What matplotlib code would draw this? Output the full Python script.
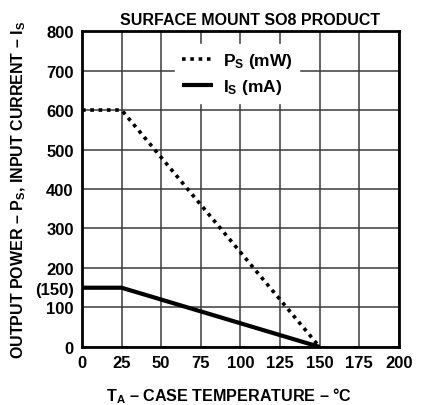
import matplotlib
matplotlib.use('Agg')
import matplotlib.pyplot as plt

plt.rcParams['font.family'] = 'Liberation Sans'
plt.rcParams['font.weight'] = 'bold'
plt.rcParams['axes.labelweight'] = 'bold'
plt.rcParams['axes.titleweight'] = 'bold'
plt.rcParams['mathtext.fontset'] = 'custom'
plt.rcParams['mathtext.rm'] = 'Liberation Sans:bold'
plt.rcParams['mathtext.it'] = 'Liberation Sans:bold'
plt.rcParams['mathtext.bf'] = 'Liberation Sans:bold'

# data
temp = [0, 25, 150]
ps_mw = [600, 600, 0]
is_ma = [150, 150, 0]
x_ticks = [0, 25, 50, 75, 100, 125, 150, 175, 200]
y_ticks = [0, 100, 150, 200, 300, 400, 500, 600, 700, 800]
y_labels = ['0', '100', '(150)', '200', '300', '400', '500', '600', '700', '800']
grid_y = [0, 100, 200, 300, 400, 500, 600, 700, 800]

fig = plt.figure(figsize=(4.27, 4.06), dpi=100)
ax = fig.add_axes([0.192, 0.143, 0.742, 0.778])

for g in x_ticks:
    ax.axvline(g, color='#3a3a3a', lw=1.1, zorder=1)
for g in grid_y:
    ax.axhline(g, color='#3a3a3a', lw=1.1, zorder=1)

ax.plot(temp, ps_mw, color='black', lw=2.6, linestyle=(0, (1, 1.3)), label=r'$\mathrm{P_S}$ (mW)', zorder=3)
ax.plot(temp, is_ma, color='black', lw=3, solid_capstyle='butt', label=r'$\mathrm{I_S}$ (mA)', zorder=3)

ax.set_xlim(0, 200)
ax.set_ylim(0, 800)
ax.set_xticks(x_ticks)
ax.set_yticks(y_ticks)
ax.set_yticklabels(y_labels)
ax.tick_params(length=0, labelsize=12, pad=6)
for s in ax.spines.values():
    s.set_linewidth(2)
    s.set_zorder(4)

ax.set_title('SURFACE MOUNT SO8 PRODUCT', fontsize=11.5, pad=5, x=0.53)
ax.set_xlabel(r'$\mathrm{T_A}$ – CASE TEMPERATURE – °C', fontsize=11.6, labelpad=11, x=0.465)
ax.set_ylabel(r'OUTPUT POWER – $\mathrm{P_S}$, INPUT CURRENT – $\mathrm{I_S}$', fontsize=11.5, labelpad=5)

leg = ax.legend(loc='upper left', bbox_to_anchor=(0.293, 0.959), frameon=True,
                fontsize=12.5, handlelength=1.8, handletextpad=0.55, borderpad=0.4,
                borderaxespad=0, labelspacing=0.4)
frame = leg.get_frame()
frame.set_edgecolor('white')
frame.set_facecolor('white')
frame.set_alpha(1)
frame.set_boxstyle('square', pad=0)
leg.set_zorder(5)

fig.savefig('out.png', dpi=100)
